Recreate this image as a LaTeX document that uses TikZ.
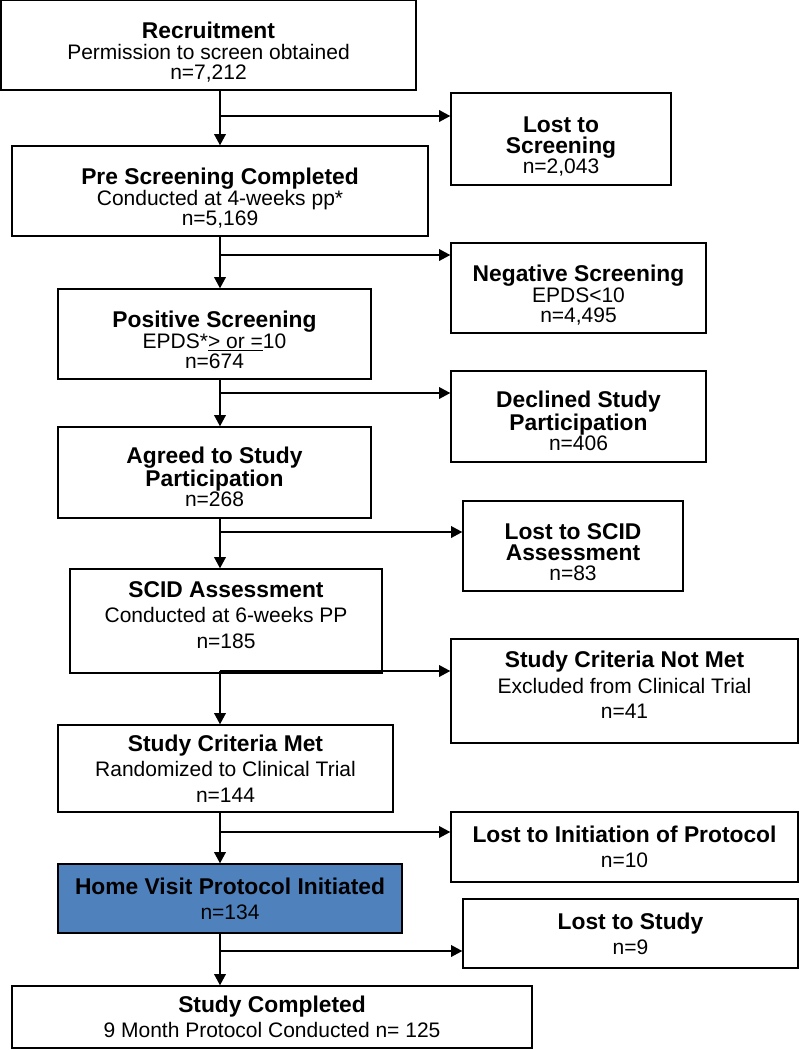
\documentclass[tikz,border=0pt]{standalone}
\usepackage{fontspec}
\setmainfont{Liberation Sans}
\usetikzlibrary{positioning,arrows.meta}

\begin{document}
\begin{tikzpicture}[x=0.75pt, y=-0.75pt]
       \definecolor{homeblue}{HTML}{4F81BD}
       \newcommand{\boxhead}[1]{{\fontsize{17.1}{15.3}\selectfont\bfseries #1}}
       \tikzstyle{block}     = [rectangle, draw=black, line width=0.9pt, inner sep=0pt, align=center, font=\fontsize{15.75}{15.3}\selectfont, text height=51.6pt, text depth=0pt]
       \tikzstyle{loose}     = [font=\fontsize{15.75}{19}\selectfont, text height=]
       \tikzstyle{connector} = [line width=1.8pt, -{Triangle[length=8.5pt, width=8.5pt]}]
       \tikzset{boxsize/.style 2 args={minimum width=#1*0.75pt, minimum height=#2*0.75pt}}

       \useasboundingbox (0,0) rectangle (799,1050);

       % main column
       \node [block, boxsize={415}{90}] (recruit) at (208.5,45) {
         \boxhead{Recruitment}\\
         Permission to screen obtained\\
         n=7,212
       };
       \node [block, boxsize={416}{90}] (prescreen) at (220,191) {
         \boxhead{Pre Screening Completed}\\
         Conducted at 4-weeks pp*\\
         n=5,169
       };
       \node [block, boxsize={313}{90}] (positive) at (214.5,334) {
         \boxhead{Positive Screening}\\
         EPDS*\underline{> or =}10\\
         n=674
       };
       \node [block, boxsize={313}{91}] (agreed) at (214.5,472.5) {
         \boxhead{Agreed to Study}\\
         \boxhead{Participation}\\
         n=268
       };
       \node [block, loose, text depth=9pt, boxsize={312}{104}] (scid) at (226,621) {
         \boxhead{SCID Assessment}\\
         Conducted at 6-weeks PP\\
         n=185
       };
       \node [block, loose, boxsize={335}{87}] (critmet) at (225.5,768.5) {
         \boxhead{Study Criteria Met}\\
         Randomized to Clinical Trial\\
         n=144
       };
       \node [block, loose, fill=homeblue, boxsize={344}{69}] (homevisit) at (230,898.5) {
         \boxhead{Home Visit Protocol Initiated}\\
         n=134
       };
       \node [block, loose, boxsize={520}{62}] (completed) at (272,1017) {
         \boxhead{Study Completed}\\
         9 Month Protocol Conducted n= 125
       };

       % drop-outs
       \node [block, boxsize={220}{92}] (lostscreen) at (561,139) {
         \boxhead{Lost to}\\
         \boxhead{Screening}\\
         n=2,043
       };
       \node [block, boxsize={255}{90}] (negative) at (578.5,288) {
         \boxhead{Negative Screening}\\
         EPDS<10\\
         n=4,495
       };
       \node [block, boxsize={255}{91}] (declined) at (578.5,416.5) {
         \boxhead{Declined Study}\\
         \boxhead{Participation}\\
         n=406
       };
       \node [block, boxsize={220}{90}] (lostscid) at (573,546) {
         \boxhead{Lost to SCID}\\
         \boxhead{Assessment}\\
         n=83
       };
       \node [block, loose, text depth=9pt, boxsize={347}{104}] (critnotmet) at (624.5,691) {
         \boxhead{Study Criteria Not Met}\\
         Excluded from Clinical Trial\\
         n=41
       };
       \node [block, loose, boxsize={347}{70}] (lostinit) at (624.5,847) {
         \boxhead{Lost to Initiation of Protocol}\\
         n=10
       };
       \node [block, loose, boxsize={335}{69}] (loststudy) at (630.5,933.5) {
         \boxhead{Lost to Study}\\
         n=9
       };

       % branch points
       \coordinate (b1) at (220,116);
       \coordinate (b2) at (220,255);
       \coordinate (b3) at (220,393);
       \coordinate (b4) at (220,532);
       \coordinate (b5) at (220,671);
       \coordinate (b6) at (220,832);
       \coordinate (b7) at (220,951);

       \draw [connector] (recruit.south -| b1)   -- (prescreen.north -| b1);
       \draw [connector] (prescreen.south -| b2) -- (positive.north -| b2);
       \draw [connector] (positive.south -| b3)  -- (agreed.north -| b3);
       \draw [connector] (agreed.south -| b4)    -- (scid.north -| b4);
       \draw [connector] (b5)                    -- (critmet.north -| b5);
       \draw [connector] (critmet.south -| b6)   -- (homevisit.north -| b6);
       \draw [connector] (homevisit.south -| b7) -- (completed.north -| b7);

       \draw [connector] (b1) -- (b1 -| lostscreen.west);
       \draw [connector] (b2) -- (b2 -| negative.west);
       \draw [connector] (b3) -- (b3 -| declined.west);
       \draw [connector] (b4) -- (b4 -| lostscid.west);
       \draw [connector] (b5) -- (b5 -| critnotmet.west);
       \draw [connector] (b6) -- (b6 -| lostinit.west);
       \draw [connector] (b7) -- (b7 -| loststudy.west);
\end{tikzpicture}
\end{document}
